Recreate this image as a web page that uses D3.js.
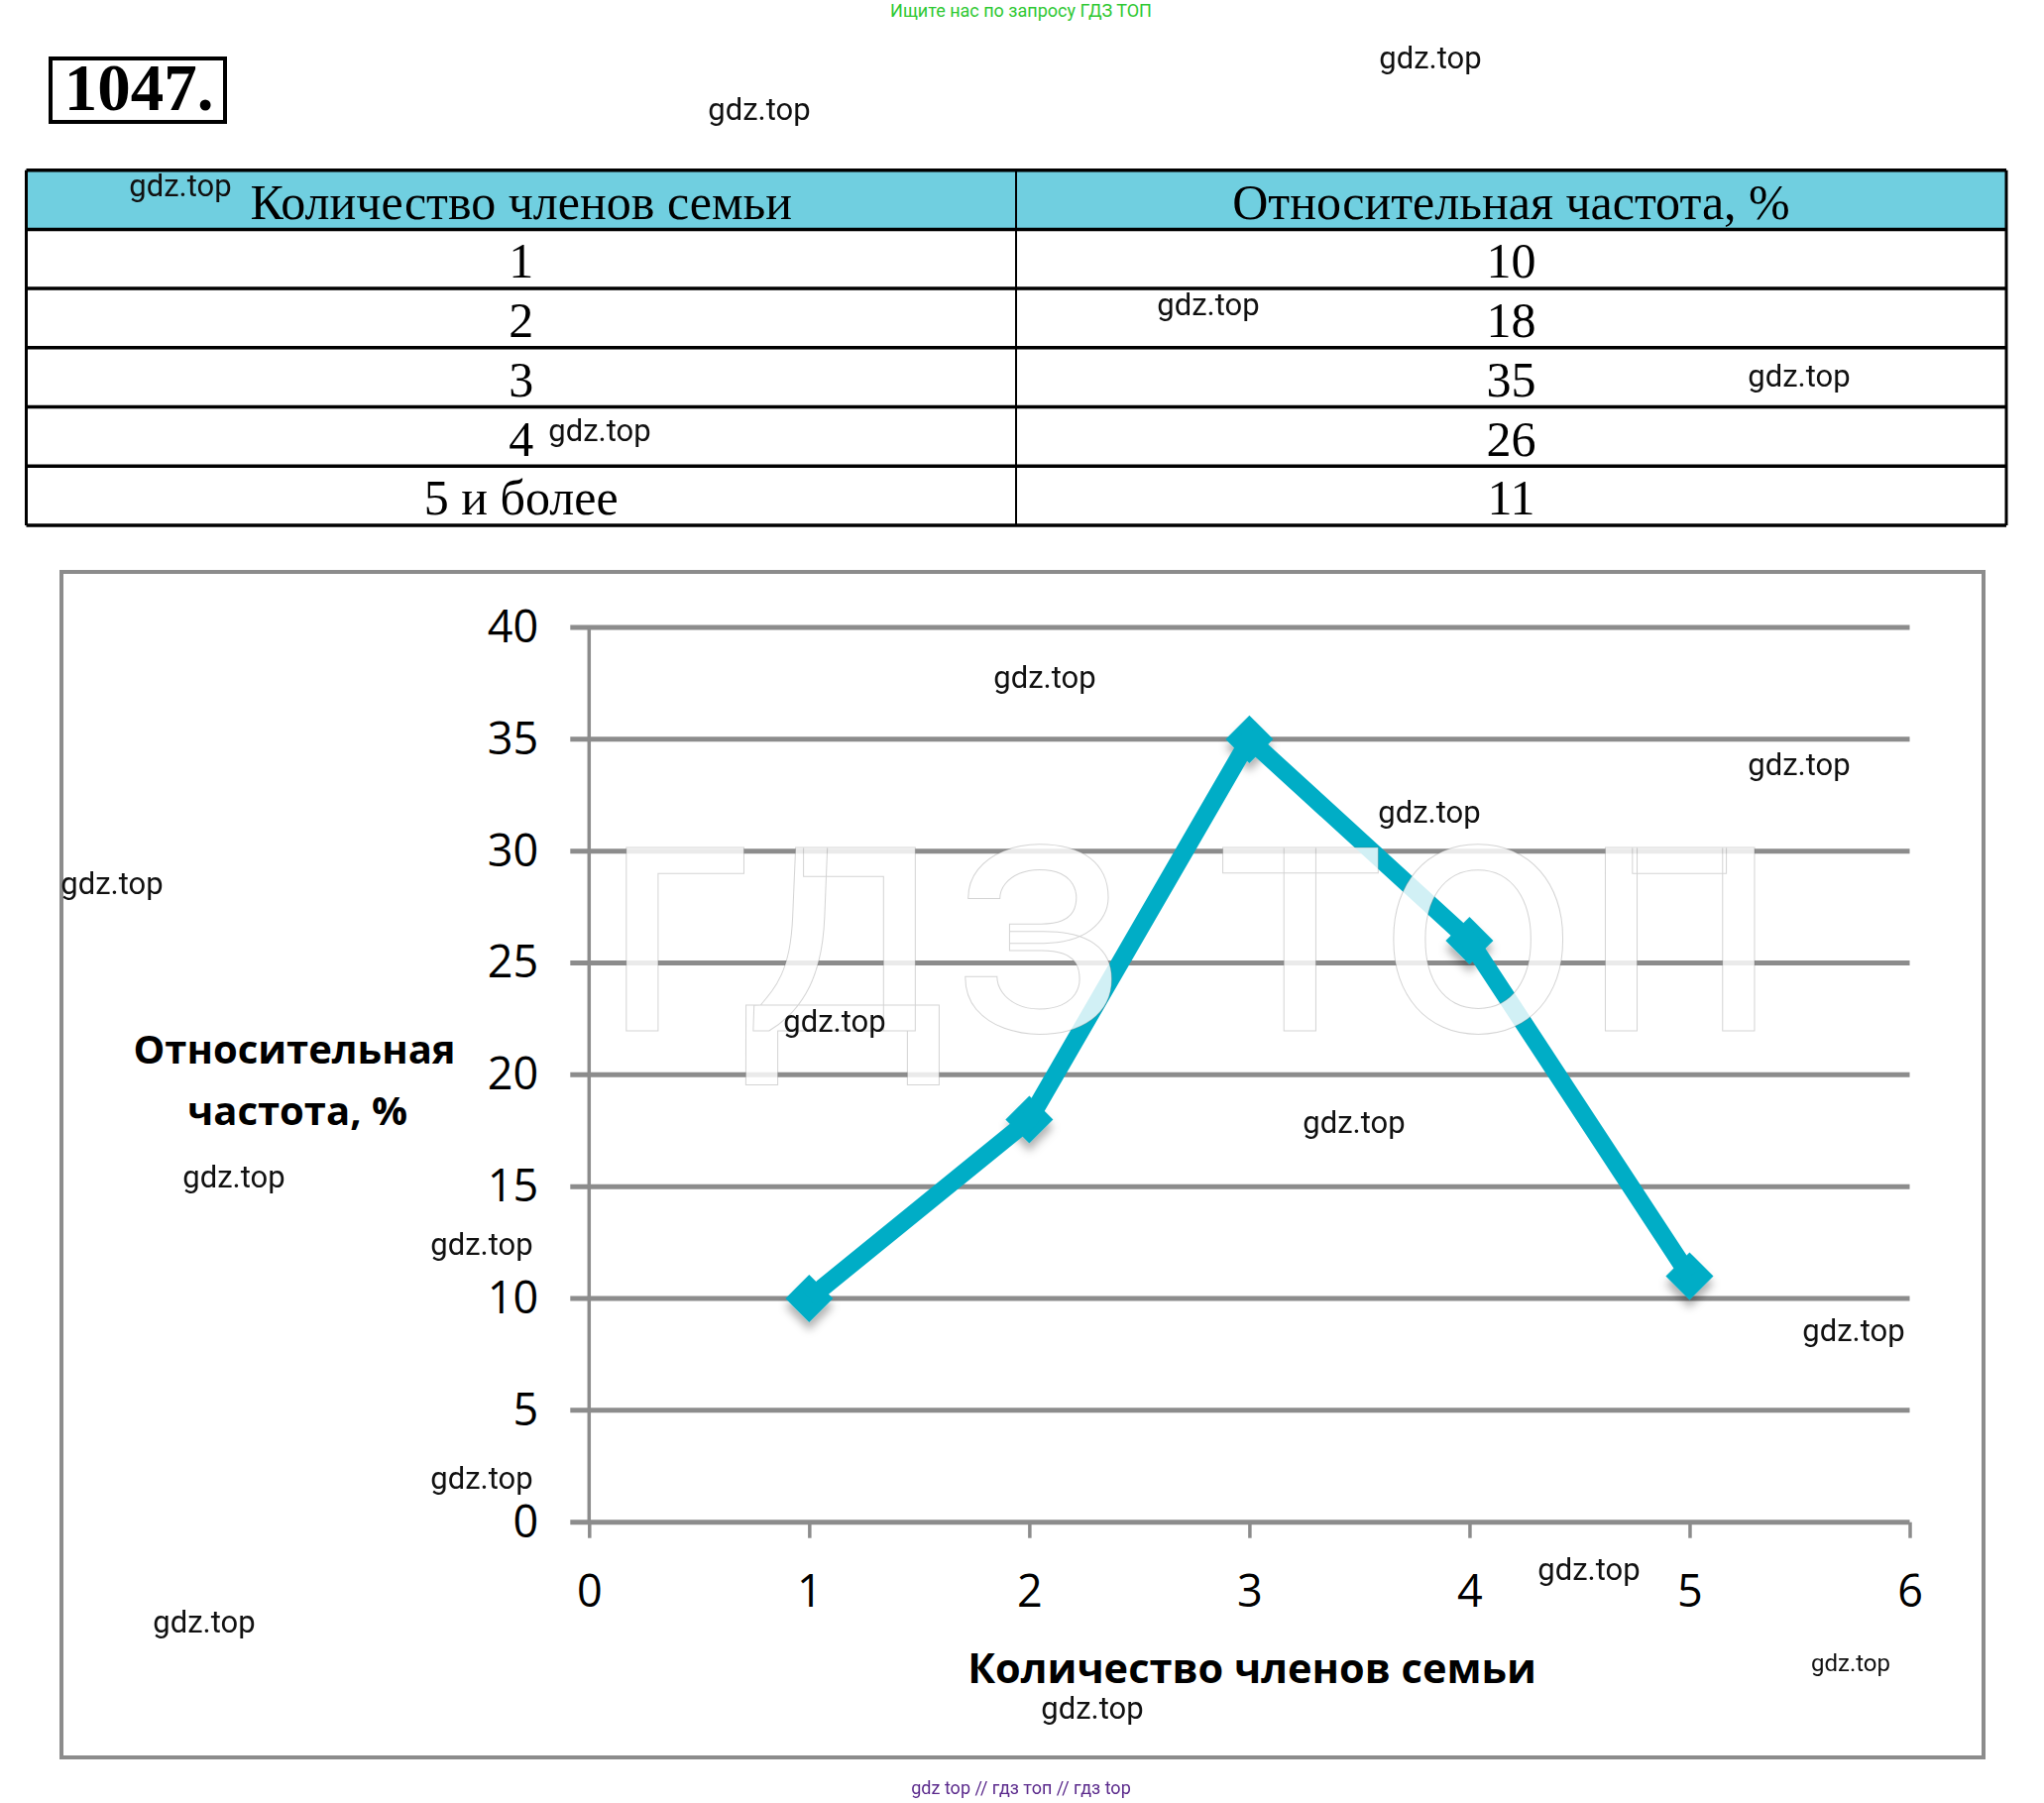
<!DOCTYPE html>
<html>
<head>
  <title>1047</title>
  <meta charset="utf-8" />
  <script src="https://d3js.org/d3.v7.min.js"></script>
</head>
<style>

body {
  margin: 0;
  background: #fff;
}

.tbl text {
  font-family: 'Liberation Serif', 'Times New Roman', serif;
  font-size: 50px;
  fill: #000;
}

.wm {
  font-family: Roboto, sans-serif;
  font-size: 31px;
  fill: #111;
}

.axis text {
  font-family: 'Open Sans', sans-serif;
  font-size: 45px;
  fill: #000;
}

.title {
  font-family: 'Open Sans', sans-serif;
  font-weight: bold;
  fill: #000;
}

</style>
<body>
<div id="viz"></div>
<script>
'use strict';

// table
const headers = ['Количество членов семьи', 'Относительная частота, %'];
const members = ['1', '2', '3', '4', '5 и более'];
const freqs = [10, 18, 35, 26, 11];

// chart
const xVals = [1, 2, 3, 4, 5];
const xTicks = [0, 1, 2, 3, 4, 5, 6];
const yTicks = [0, 5, 10, 15, 20, 25, 30, 35, 40];

// "gdz.top" stamps scattered over the page
const stamps = [
  [1443, 58], [766, 110], [182, 187], [1219, 307], [1815, 379], [605, 434],
  [1054, 683], [1815, 771], [1442, 819], [113, 891], [842, 1030], [1366, 1132],
  [236, 1187], [486, 1255], [1870, 1342], [486, 1491], [1603, 1583], [206, 1636],
  [1102, 1723]
];

const lineColor = '#00adc6';
const gridColor = '#8c8c8c';

const W = 2062, H = 1819;
const svg = d3.select('#viz').append('svg')
  .attr('width', W)
  .attr('height', H);

const defs = svg.append('defs');
defs.append('filter')
    .attr('id', 'shadow')
    .attr('x', '-50%').attr('y', '-50%')
    .attr('width', '200%').attr('height', '200%')
  .append('feDropShadow')
    .attr('dx', 0).attr('dy', 8)
    .attr('stdDeviation', 4)
    .attr('flood-color', '#000')
    .attr('flood-opacity', 0.3);

// top line
svg.append('text')
  .attr('x', 1030).attr('y', 17)
  .attr('text-anchor', 'middle')
  .style('font-family', 'Roboto, sans-serif')
  .style('font-size', '18px')
  .style('fill', '#2ec832')
  .text('Ищите нас по запросу ГДЗ ТОП');

// task number
svg.append('rect')
  .attr('x', 51).attr('y', 59)
  .attr('width', 176).attr('height', 64)
  .style('fill', 'none')
  .style('stroke', '#000')
  .style('stroke-width', 4);
svg.append('text')
  .attr('x', 140).attr('y', 111)
  .attr('text-anchor', 'middle')
  .style('font-family', "'Liberation Serif', serif")
  .style('font-weight', 'bold')
  .style('font-size', '67px')
  .text('1047.');

// ---- table
const tbl = svg.append('g').attr('class', 'tbl');
const tx0 = 26.5, tx1 = 2024, tmid = 1025;
const ty0 = 171.7, rowH = 59.7;
const nRows = members.length + 1;

tbl.append('rect')
  .attr('x', tx0).attr('y', ty0)
  .attr('width', tx1 - tx0).attr('height', rowH)
  .style('fill', '#70cfe0');

for (let i = 0; i <= nRows; i++) {
  tbl.append('line')
    .attr('x1', tx0).attr('x2', tx1)
    .attr('y1', ty0 + i * rowH).attr('y2', ty0 + i * rowH)
    .style('stroke', '#000')
    .style('stroke-width', 3.5);
}
[tx0, tmid, tx1].forEach(x => {
  tbl.append('line')
    .attr('x1', x).attr('x2', x)
    .attr('y1', ty0).attr('y2', ty0 + nRows * rowH)
    .style('stroke', '#000')
    .style('stroke-width', x === tmid ? 2 : 3);
});

const c1 = (tx0 + tmid) / 2, c2 = (tmid + tx1) / 2;
tbl.selectAll('text.h').data(headers).enter()
  .append('text')
    .attr('x', (d, i) => i ? c2 : c1)
    .attr('y', ty0 + 49)
    .attr('text-anchor', 'middle')
    .text(d => d);
members.forEach((m, i) => {
  const yb = ty0 + (i + 1) * rowH + 49;
  tbl.append('text').attr('x', c1).attr('y', yb).attr('text-anchor', 'middle').text(m);
  tbl.append('text').attr('x', c2).attr('y', yb).attr('text-anchor', 'middle').text(freqs[i]);
});

// ---- chart
svg.append('rect')
  .attr('x', 62).attr('y', 577)
  .attr('width', 1939).attr('height', 1196)
  .style('fill', 'none')
  .style('stroke', gridColor)
  .style('stroke-width', 4);

const x = d3.scaleLinear().domain([0, 6]).range([594.3, 1926.5]);
const y = d3.scaleLinear().domain([0, 40]).range([1535.7, 633]);

// gridlines
svg.append('g').selectAll('line').data(yTicks).enter()
  .append('line')
    .attr('x1', x(0) - 19).attr('x2', x(6))
    .attr('y1', d => y(d)).attr('y2', d => y(d))
    .style('stroke', gridColor)
    .style('stroke-width', 5);

// y axis line
svg.append('line')
  .attr('x1', x(0)).attr('x2', x(0))
  .attr('y1', y(40)).attr('y2', y(0))
  .style('stroke', gridColor)
  .style('stroke-width', 3.5);

const yAxis = svg.append('g')
  .attr('class', 'axis')
  .attr('transform', 'translate(' + x(0) + ',0)')
  .call(d3.axisLeft(y).tickValues(yTicks).tickFormat(d3.format('d')).tickSize(0).tickPadding(51));
yAxis.select('.domain').remove();

const xAxis = svg.append('g')
  .attr('class', 'axis')
  .attr('transform', 'translate(0,' + y(0) + ')')
  .call(d3.axisBottom(x).tickValues(xTicks).tickFormat(d3.format('d')).tickSize(16).tickPadding(37));
xAxis.select('.domain').remove();
xAxis.selectAll('.tick line')
  .style('stroke', gridColor)
  .style('stroke-width', 3.5);

// titles
svg.append('text')
  .attr('class', 'title')
  .attr('x', 1263).attr('y', 1698)
  .attr('text-anchor', 'middle')
  .style('font-size', '41.5px')
  .text('Количество членов семьи');
svg.append('text')
  .attr('class', 'title')
  .attr('x', 297).attr('y', 1073)
  .attr('text-anchor', 'middle')
  .style('font-size', '40px')
  .text('Относительная');
svg.append('text')
  .attr('class', 'title')
  .attr('x', 300).attr('y', 1135)
  .attr('text-anchor', 'middle')
  .style('font-size', '40px')
  .text('частота, %');

// series
const pts = xVals.map((v, i) => [v, freqs[i]]);

svg.append('g')
    .attr('filter', 'url(#shadow)')
  .selectAll('path').data(pts).enter()
  .append('path')
    .attr('d', d3.symbol().type(d3.symbolSquare).size(1150))
    .attr('transform', d => 'translate(' + x(d[0]) + ',' + y(d[1]) + ') rotate(45)')
    .style('fill', lineColor);

svg.append('path')
  .datum(pts)
  .attr('d', d3.line().x(d => x(d[0])).y(d => y(d[1])))
  .style('fill', 'none')
  .style('stroke', lineColor)
  .style('stroke-width', 18)
  .style('stroke-linejoin', 'miter');

// faint big stamp across the plot
svg.append('text')
  .attr('x', 605).attr('y', 1040)
  .attr('textLength', 1192)
  .attr('lengthAdjust', 'spacingAndGlyphs')
  .style('font-family', 'Roboto, sans-serif')
  .style('font-size', '350px')
  .style('fill', '#fff')
  .style('fill-opacity', 0.82)
  .style('stroke', '#555')
  .style('stroke-width', 1)
  .style('stroke-opacity', 0.25)
  .text('гдз топ');

// small stamps
svg.append('g').selectAll('text').data(stamps).enter()
  .append('text')
    .attr('class', 'wm')
    .attr('x', d => d[0]).attr('y', d => d[1])
    .attr('text-anchor', 'middle')
    .attr('dominant-baseline', 'central')
    .text('gdz.top');
svg.append('text')
  .attr('class', 'wm')
  .attr('x', 1867).attr('y', 1678)
  .attr('text-anchor', 'middle')
  .attr('dominant-baseline', 'central')
  .style('font-size', '24px')
  .text('gdz.top');

// footer
svg.append('text')
  .attr('x', 1030).attr('y', 1810)
  .attr('text-anchor', 'middle')
  .style('font-family', 'Roboto, sans-serif')
  .style('font-size', '18px')
  .style('fill', '#5b2a8c')
  .text('gdz top // гдз топ // гдз top');

</script>
</body>
</html>
